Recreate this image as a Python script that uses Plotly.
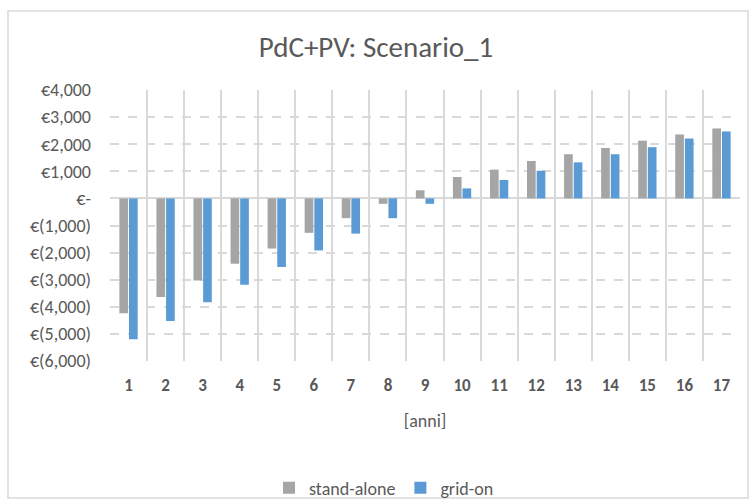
import plotly.graph_objects as go

years = [str(i) for i in range(1, 18)]
stand_alone = [-4240, -3640, -3030, -2410, -1850, -1270, -730, -200, 300,
               790, 1060, 1380, 1630, 1860, 2130, 2360, 2580]
grid_on = [-5200, -4520, -3830, -3190, -2530, -1920, -1300, -730, -200,
           370, 680, 1020, 1330, 1630, 1890, 2210, 2470]
y_ticks = list(range(-6000, 5000, 1000))


def acct(v):
    if v == 0:
        return "€-"
    s = f"{abs(v):,}"
    return f"€({s})" if v < 0 else f"€{s}"


FONT = "Calibri, Carlito, Lato, 'Open Sans', sans-serif"
TXT = "#595959"
GRID = "#d9d9d9"

fig = go.Figure()
fig.add_trace(go.Bar(x=years, y=stand_alone, name="stand-alone",
                     marker=dict(color="#A5A5A5", line=dict(width=0))))
fig.add_trace(go.Bar(x=years, y=grid_on, name="grid-on",
                     marker=dict(color="#5B9BD5", line=dict(width=0))))

fig.update_layout(
    width=752, height=500,
    margin=dict(l=110, r=12, t=90, b=139, autoexpand=False),
    paper_bgcolor="white", plot_bgcolor="white",
    font=dict(family=FONT, color=TXT, size=18),
    title=dict(text="PdC+PV: Scenario_1", x=0.5, xanchor="center",
               y=1 - 47 / 500, yanchor="middle",
               font=dict(size=29, color=TXT, family=FONT)),
    barmode="group", bargap=0.48, bargroupgap=0.1,
    showlegend=True,
    legend=dict(orientation="h", xref="container", yref="container",
                x=384 / 752, xanchor="center", y=1 - 488 / 500,
                yanchor="middle", font=dict(size=18, color=TXT, family=FONT),
                bgcolor="rgba(0,0,0,0)",
                itemwidth=30, traceorder="normal"),
    xaxis=dict(type="category", tickson="boundaries", showgrid=True,
               gridcolor=GRID, gridwidth=1.5, ticks="", showline=False,
               automargin=False,
               tickfont=dict(size=17, color=TXT, family=FONT, weight="bold"),
               ticklabelstandoff=12,
               title=dict(text="[anni]", standoff=19,
                          font=dict(size=18, color=TXT, family=FONT)),
               zeroline=False, range=[-0.5, 16.5]),
    yaxis=dict(range=[-6000, 4000], tickvals=y_ticks,
               ticktext=[acct(v) for v in y_ticks],
               showgrid=True, gridcolor=GRID, gridwidth=1.5, griddash="dash",
               zeroline=True, zerolinecolor=GRID, zerolinewidth=2,
               ticks="", showline=False, ticklabelstandoff=18,
               automargin=False,
               tickfont=dict(size=18, color=TXT, family=FONT)),
)
fig.add_shape(type="rect", xref="paper", yref="paper",
              x0=-102 / 630, x1=1 + 8 / 630, y0=-137 / 271, y1=1 + 79 / 271,
              line=dict(color=GRID, width=1.5), layer="below")

fig.write_html("out.html", config={"displayModeBar": False},
               post_script="document.body.style.margin='0';document.body.style.overflow='hidden';")
